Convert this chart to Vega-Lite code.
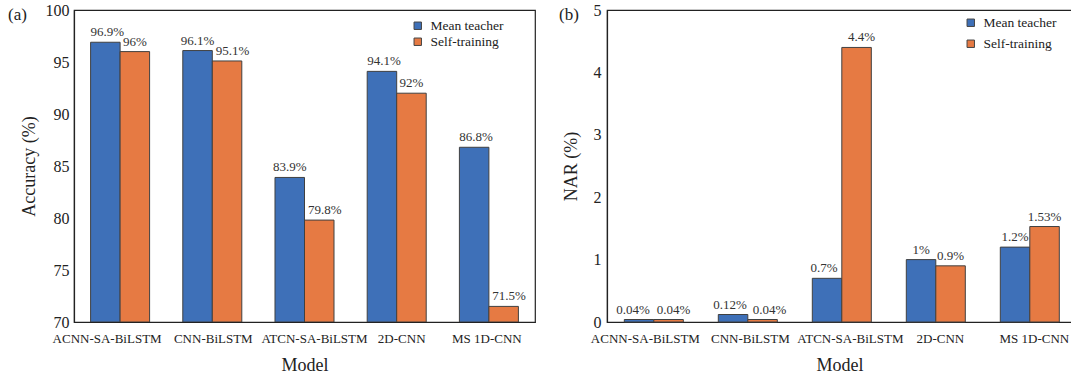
{
  "$schema": "https://vega.github.io/schema/vega-lite/v6.json",
  "background": "white",
  "padding": {"left": 7, "top": 1, "right": 0, "bottom": 0},
  "config": {
    "font": "Liberation Serif",
    "view": {"stroke": "#222", "strokeWidth": 1.2},
    "axis": {"labelFont": "Liberation Serif", "titleFont": "Liberation Serif", "labelColor": "#222", "titleColor": "#222", "domainColor": "#222", "domainWidth": 1.2, "ticks": false, "grid": false, "titleFontWeight": "normal"},
    "legend": {"labelFont": "Liberation Serif", "labelColor": "#222", "labelFontSize": 13.5, "symbolType": "square", "symbolSize": 55, "symbolStrokeColor": "#444", "symbolStrokeWidth": 1, "labelOffset": 6, "orient": "none", "padding": 0},
    "title": {"font": "Liberation Serif", "fontWeight": "normal", "fontSize": 17, "color": "#222"},
    "text": {"font": "Liberation Serif", "fontSize": 13, "color": "#333", "baseline": "alphabetic", "dy": -6},
    "concat": {"spacing": 22}
  },
  "datasets": {
    "acc": [
      {"model": "ACNN-SA-BiLSTM", "series": "Mean teacher", "value": 96.9},
      {"model": "ACNN-SA-BiLSTM", "series": "Self-training", "value": 96},
      {"model": "CNN-BiLSTM", "series": "Mean teacher", "value": 96.1},
      {"model": "CNN-BiLSTM", "series": "Self-training", "value": 95.1},
      {"model": "ATCN-SA-BiLSTM", "series": "Mean teacher", "value": 83.9},
      {"model": "ATCN-SA-BiLSTM", "series": "Self-training", "value": 79.8},
      {"model": "2D-CNN", "series": "Mean teacher", "value": 94.1},
      {"model": "2D-CNN", "series": "Self-training", "value": 92},
      {"model": "MS 1D-CNN", "series": "Mean teacher", "value": 86.8},
      {"model": "MS 1D-CNN", "series": "Self-training", "value": 71.5}
    ],
    "nar": [
      {"model": "ACNN-SA-BiLSTM", "series": "Mean teacher", "value": 0.04},
      {"model": "ACNN-SA-BiLSTM", "series": "Self-training", "value": 0.04},
      {"model": "CNN-BiLSTM", "series": "Mean teacher", "value": 0.12},
      {"model": "CNN-BiLSTM", "series": "Self-training", "value": 0.04},
      {"model": "ATCN-SA-BiLSTM", "series": "Mean teacher", "value": 0.7},
      {"model": "ATCN-SA-BiLSTM", "series": "Self-training", "value": 4.4},
      {"model": "2D-CNN", "series": "Mean teacher", "value": 1},
      {"model": "2D-CNN", "series": "Self-training", "value": 0.9},
      {"model": "MS 1D-CNN", "series": "Mean teacher", "value": 1.2},
      {"model": "MS 1D-CNN", "series": "Self-training", "value": 1.53}
    ]
  },
  "resolve": {"scale": {"color": "independent", "y": "independent", "x": "independent"}, "legend": {"color": "independent"}},
  "hconcat": [
    {
      "width": 461,
      "height": 312,
      "title": {"text": "(a)", "anchor": "start", "frame": "bounds", "dy": 26, "dx": -12},
      "data": {"name": "acc"},
      "transform": [{"calculate": "datum.value + '%'", "as": "label"}],
      "encoding": {
        "x": {"field": "model", "type": "nominal", "sort": null, "title": "Model",
              "scale": {"paddingInner": 0.36, "paddingOuter": 0.18},
              "axis": {"labelAngle": 0, "labelFontSize": 13, "titleFontSize": 18, "labelPadding": 10, "titlePadding": 11,
                       "labelOffset": {"condition": [
                         {"test": "datum.value === 'ACNN-SA-BiLSTM'", "value": -13},
                         {"test": "datum.value === 'CNN-BiLSTM'", "value": 1},
                         {"test": "datum.value === 'ATCN-SA-BiLSTM'", "value": 10},
                         {"test": "datum.value === '2D-CNN'", "value": 5}
                       ], "value": -2}}},
        "y": {"field": "value", "type": "quantitative", "title": "Accuracy (%)",
              "scale": {"domain": [70, 100], "nice": false, "zero": false},
              "axis": {"values": [70, 75, 80, 85, 90, 95, 100], "labelFontSize": 16, "titleFontSize": 18, "labelPadding": 5, "titlePadding": 7}},
        "xOffset": {"field": "series", "sort": null}
      },
      "layer": [
        {
          "mark": {"type": "bar", "stroke": "#404040", "strokeWidth": 1, "clip": true},
          "encoding": {
            "y2": {"datum": 70},
            "color": {"field": "series", "type": "nominal", "title": null,
                      "scale": {"domain": ["Mean teacher", "Self-training"], "range": ["#3e70b8", "#e67a43"]},
                      "legend": {"legendX": 337, "legendY": 9, "rowPadding": 1}}
          }
        },
        {
          "transform": [{"filter": "(datum.series === 'Self-training' && (datum.model === 'ACNN-SA-BiLSTM' || datum.model === '2D-CNN')) || (datum.series === 'Mean teacher' && (datum.model === 'CNN-BiLSTM' || datum.model === 'ATCN-SA-BiLSTM'))"}],
          "mark": {"type": "text"},
          "encoding": {"text": {"field": "label"}}
        },
        {
          "transform": [{"filter": "datum.series === 'Self-training' && (datum.model === 'CNN-BiLSTM' || datum.model === 'ATCN-SA-BiLSTM' || datum.model === 'MS 1D-CNN')"}],
          "mark": {"type": "text", "dx": 5.5},
          "encoding": {"text": {"field": "label"}}
        },
        {
          "transform": [{"filter": "datum.series === 'Mean teacher' && (datum.model === 'ACNN-SA-BiLSTM' || datum.model === '2D-CNN' || datum.model === 'MS 1D-CNN')"}],
          "mark": {"type": "text", "dx": 2},
          "encoding": {"text": {"field": "label"}}
        }
      ]
    },
    {
      "width": 465,
      "height": 312,
      "title": {"text": "(b)", "anchor": "start", "frame": "bounds", "dy": 26, "dx": -3},
      "data": {"name": "nar"},
      "transform": [{"calculate": "datum.value + '%'", "as": "label"}],
      "encoding": {
        "x": {"field": "model", "type": "nominal", "sort": null, "title": "Model",
              "scale": {"paddingInner": 0.36, "paddingOuter": 0.1535, "align": 0.6},
              "axis": {"labelAngle": 0, "labelFontSize": 13, "titleFontSize": 18, "labelPadding": 10, "titlePadding": 11,
                       "labelOffset": {"condition": [
                         {"test": "datum.value === 'ACNN-SA-BiLSTM'", "value": -9},
                         {"test": "datum.value === 'CNN-BiLSTM'", "value": 2},
                         {"test": "datum.value === 'ATCN-SA-BiLSTM'", "value": 8}
                       ], "value": 4}}},
        "y": {"field": "value", "type": "quantitative", "title": "NAR (%)",
              "scale": {"domain": [0, 5], "nice": false},
              "axis": {"values": [0, 1, 2, 3, 4, 5], "labelFontSize": 16, "titleFontSize": 18, "labelPadding": 6, "titlePadding": 13}},
        "xOffset": {"field": "series", "sort": null}
      },
      "layer": [
        {
          "mark": {"type": "bar", "stroke": "#404040", "strokeWidth": 1},
          "encoding": {
            "color": {"field": "series", "type": "nominal", "title": null,
                      "scale": {"domain": ["Mean teacher", "Self-training"], "range": ["#3e70b8", "#e67a43"]},
                      "legend": {"legendX": 357, "legendY": 6, "rowPadding": 6}}
          }
        },
        {
          "transform": [{"filter": "datum.model === '2D-CNN' || datum.model === 'MS 1D-CNN'"}],
          "mark": {"type": "text"},
          "encoding": {"text": {"field": "label"}}
        },
        {
          "transform": [{"filter": "datum.series === 'Mean teacher' && datum.model === 'ACNN-SA-BiLSTM'"}],
          "mark": {"type": "text", "dx": -6},
          "encoding": {"text": {"field": "label"}}
        },
        {
          "transform": [{"filter": "datum.series === 'Mean teacher' && (datum.model === 'CNN-BiLSTM' || datum.model === 'ATCN-SA-BiLSTM')"}],
          "mark": {"type": "text", "dx": -3},
          "encoding": {"text": {"field": "label"}}
        },
        {
          "transform": [{"filter": "datum.series === 'Self-training' && (datum.model === 'ACNN-SA-BiLSTM' || datum.model === 'ATCN-SA-BiLSTM')"}],
          "mark": {"type": "text", "dx": 5},
          "encoding": {"text": {"field": "label"}}
        },
        {
          "transform": [{"filter": "datum.series === 'Self-training' && datum.model === 'CNN-BiLSTM'"}],
          "mark": {"type": "text", "dx": 7},
          "encoding": {"text": {"field": "label"}}
        }
      ]
    }
  ]
}
